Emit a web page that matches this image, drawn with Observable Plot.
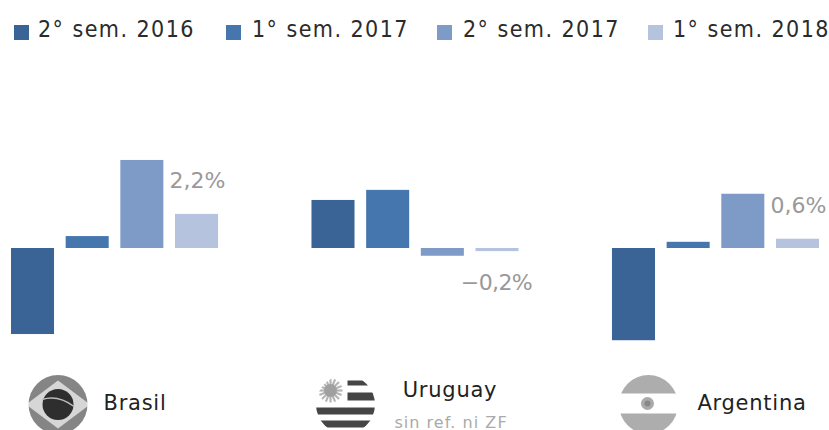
<!DOCTYPE html>
<html><head><meta charset="utf-8">
<script src="https://cdn.jsdelivr.net/npm/d3@7"></script>
<script src="https://cdn.jsdelivr.net/npm/@observablehq/plot@0.6"></script>
<style>
html,body{margin:0;padding:0;background:#fff;overflow:hidden}
#wrap{position:relative;width:829px;height:430px;font-family:"DejaVu Sans Condensed","DejaVu Sans",sans-serif}
#legend{position:relative;height:55px}
#legend span.s{position:absolute;top:25px;width:15px;height:15px}
#legend span.t{position:absolute;top:15px;font-size:23px;line-height:28px;color:#2b2b2b;white-space:nowrap;letter-spacing:1.45px}
svg{display:block}
</style></head><body>
<div id="wrap"><div id="legend"></div><div id="chart"></div></div>
<script>
const semesters = ["2° sem. 2016","1° sem. 2017","2° sem. 2017","1° sem. 2018"];
const colors = ["#3A6496","#4676AE","#7E9AC6","#B5C3DE"];
const countries = ["Brasil","Uruguay","Argentina"];
const brasil = [-5.55,0.77,5.68,2.2];
const uruguay = [3.1,3.75,-0.5,-0.2];
const argentina = [-5.95,0.4,3.5,0.6];
const endLabels = ["2,2%","\u22120,2%","0,6%"];
const swatchLeft = [14,226,437,648];
const textLeft = [38,252,463,673];

const series = {Brasil:brasil,Uruguay:uruguay,Argentina:argentina};
const bars = countries.flatMap(c=>semesters.map((s,i)=>({country:c,sem:s,value:series[c][i]})));
const lastBars = countries.map((c,i)=>({country:c,sem:semesters[3],value:series[c][3],label:endLabels[i]}));

const svgUri = s => "data:image/svg+xml;utf8,"+encodeURIComponent(`<svg xmlns="http://www.w3.org/2000/svg" viewBox="0 0 60 60"><defs><clipPath id="c"><circle cx="30" cy="30" r="29.5"/></clipPath><filter id="b" x="-10%" y="-10%" width="120%" height="120%"><feGaussianBlur stdDeviation="0.6"/></filter></defs><g clip-path="url(#c)"><g filter="url(#b)">${s}</g></g></svg>`);
const rays = d3.range(16).map(i=>{const a=i*Math.PI/8;return `<line x1="15" y1="16" x2="${15+12*Math.cos(a)}" y2="${16+12*Math.sin(a)}" stroke="#b5b5b5" stroke-width="2.2"/>`}).join("");
const flags = {
 Brasil: svgUri(`<rect x="-5" y="-5" width="70" height="70" fill="#858585"/><path d="M30 6L62 30L30 54L-2 30Z" fill="#d6d6d6"/><circle cx="30" cy="30" r="15.5" fill="#2e2e2e"/><path d="M14 25Q30 20 46 32" stroke="#bbb" stroke-width="1.5" fill="none"/>`),
 Uruguay: svgUri(`<rect x="-5" y="-5" width="70" height="70" fill="#fff"/><path d="M32 6H60V11H32ZM32 18H60V26H32ZM0 33H60V40H0ZM0 46H60V53H0Z" fill="#444"/>${rays}<circle cx="15" cy="16" r="6.5" fill="#a0a0a0"/>`),
 Argentina: svgUri(`<rect x="-5" y="-5" width="70" height="70" fill="#adadad"/><rect x="-5" y="19" width="70" height="20" fill="#fff"/><circle cx="29" cy="29" r="6.5" fill="#aaa"/><circle cx="29" cy="29" r="3" fill="#888"/>`)
};
const flagDx = {Brasil:-57,Uruguay:-70,Argentina:-67.5};
const nameDx = {Brasil:20,Uruguay:34.5,Argentina:36};
const nameDy = {Brasil:-21,Uruguay:-34,Argentina:-21};
const subtitle = "sin ref. ni ZF";

const legend = document.getElementById("legend");
semesters.forEach((s,i)=>{
  legend.insertAdjacentHTML("beforeend",`<span class="s" style="left:${swatchLeft[i]}px;background:${colors[i]}"></span><span class="t" style="left:${textLeft[i]}px">${s}</span>`);
});

const chart = Plot.plot({
  width:829,height:375,marginLeft:11,marginRight:10,marginTop:0,marginBottom:0,
  fx:{domain:countries,axis:null,paddingInner:0.311,paddingOuter:0,round:false,label:null},
  x:{domain:semesters,axis:null,paddingInner:0.213,paddingOuter:0,round:false},
  y:{domain:[-6,6],range:[286,100],axis:null},
  color:{domain:semesters,range:colors},
  marks:[
    Plot.barY(bars,{fx:"country",x:"sem",y1:0,y2:"value",fill:"sem"}),
    Plot.text(lastBars.filter(d=>d.value>0),{fx:"country",x:"sem",y:"value",text:"label",dy:-33,dx:0.5,fill:"#999",fontSize:22,fontFamily:"DejaVu Sans"}),
    Plot.text(lastBars.filter(d=>d.value<0),{fx:"country",x:"sem",y:"value",text:"label",dy:31,dx:-1,fill:"#999",fontSize:22,fontFamily:"DejaVu Sans"}),
    ...countries.flatMap(c=>[
      Plot.image([c],{fx:d=>d,frameAnchor:"bottom",src:d=>flags[d],width:60,height:60,dx:flagDx[c],dy:-26}),
      Plot.text([c],{fx:d=>d,frameAnchor:"bottom",text:d=>d,dx:nameDx[c],dy:nameDy[c],fill:"#222",fontSize:21,fontFamily:"DejaVu Sans"})
    ]),
    Plot.text(["Uruguay"],{fx:d=>d,frameAnchor:"bottom",text:()=>subtitle,dx:35.5,dy:-3,fill:"#aaa",fontSize:16,fontFamily:"DejaVu Sans"})
  ]
});
chart.querySelectorAll("text").forEach(t=>{
  const s=t.textContent;
  if(countries.includes(s)) t.style.letterSpacing="0.75px";
  else if(s===subtitle) t.style.letterSpacing="1.05px";
  else if(s.startsWith("\u2212")) t.style.letterSpacing="-0.6px";
});
document.getElementById("chart").appendChild(chart);
</script>
</body></html>
